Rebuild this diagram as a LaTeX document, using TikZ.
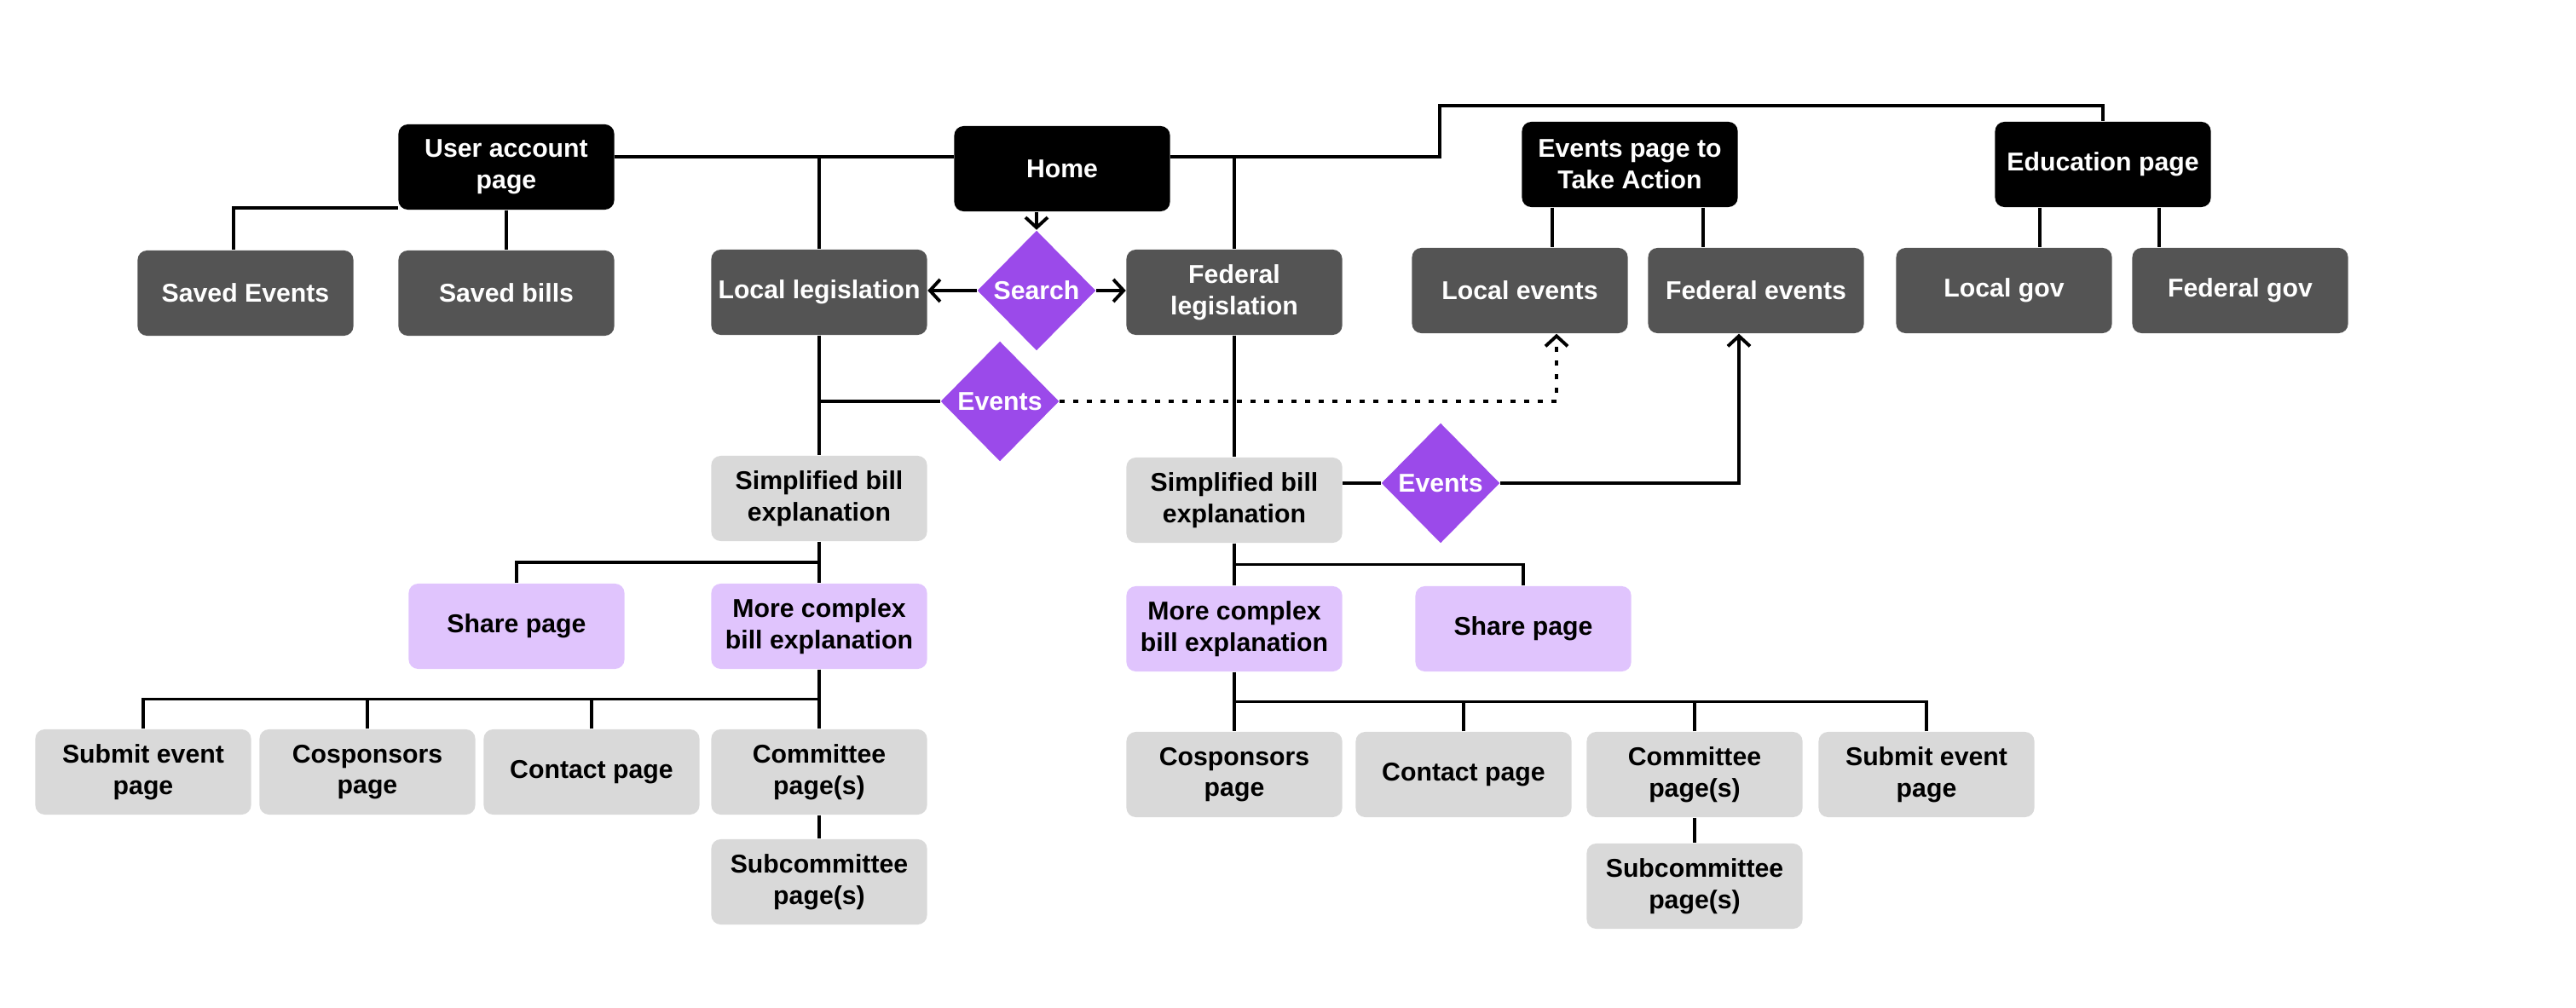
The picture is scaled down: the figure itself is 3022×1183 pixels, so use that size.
\documentclass[tikz,border=0pt]{standalone}
\usepackage{fontspec}
\setmainfont{Liberation Sans}
\usetikzlibrary{shapes.geometric,arrows.meta,calc}
\definecolor{dkgray}{HTML}{545454}
\definecolor{ltgray}{HTML}{D9D9D9}
\definecolor{ltpurple}{HTML}{E0C4FD}
\definecolor{dpurple}{HTML}{9B4AEA}
\tikzset{
  box/.style={rectangle, rounded corners=0.11cm, minimum width=2.53cm, minimum height=1.0cm,
    inner sep=0pt, align=center, font=\fontsize{8.6}{10.4}\selectfont\bfseries},
  topbox/.style={box, fill=black, text=white},
  darkbox/.style={box, fill=dkgray, text=white},
  greybox/.style={box, fill=ltgray, text=black},
  purplebox/.style={box, fill=ltpurple, text=black},
  decision/.style={diamond, aspect=1, fill=dpurple, text=white, inner sep=0pt,
    minimum width=1.39cm, minimum height=1.41cm, font=\fontsize{8.6}{10.4}\selectfont\bfseries},
  link/.style={draw=black, line width=1.1pt},
  arr/.style={link, -{Straight Barb[length=0.12cm,width=0.26cm,line width=1.1pt]}},
  dotlink/.style={arr, dash pattern=on 0.06cm off 0.1cm}
}
\begin{document}
\begin{tikzpicture}[x=0.01cm, y=-0.01cm]
\useasboundingbox (0,0) rectangle (3022,1183);
% top row
\node[topbox] (uap) at (594,196) {User account\\page};
\node[topbox] (home) at (1246,198) {Home};
\node[topbox] (evp) at (1912,193) {Events page to\\Take Action};
\node[topbox] (edu) at (2467,193) {Education page};
% second row
\node[darkbox] (sev) at (288,344) {Saved Events};
\node[darkbox] (sbl) at (594,344) {Saved bills};
\node[darkbox] (loc) at (961,343) {Local legislation};
\node[decision] (search) at (1216,341) {Search};
\node[darkbox] (fed) at (1448,343) {Federal\\legislation};
\node[darkbox] (le) at (1783,341) {Local events};
\node[darkbox] (fe) at (2060,341) {Federal events};
\node[darkbox] (lg) at (2351,341) {Local gov};
\node[darkbox] (fg) at (2628,341) {Federal gov};
% local branch
\node[decision] (ev1) at (1173,471) {Events};
\node[greybox] (ls) at (961,585) {Simplified bill\\explanation};
\node[purplebox] (lsh) at (606,735) {Share page};
\node[purplebox] (lmc) at (961,735) {More complex\\bill explanation};
\node[greybox] (lse) at (168,906) {Submit event\\page};
\node[greybox] (lco) at (431,906) {Cosponsors\\page};
\node[greybox] (lct) at (694,906) {Contact page};
\node[greybox] (lcm) at (961,906) {Committee\\page(s)};
\node[greybox] (lsc) at (961,1035) {Subcommittee\\page(s)};
% federal branch
\node[greybox] (fs) at (1448,587) {Simplified bill\\explanation};
\node[decision] (ev2) at (1690,567) {Events};
\node[purplebox] (fmc) at (1448,738) {More complex\\bill explanation};
\node[purplebox] (fsh) at (1787,738) {Share page};
\node[greybox] (fco) at (1448,909) {Cosponsors\\page};
\node[greybox] (fct) at (1717,909) {Contact page};
\node[greybox] (fcm) at (1988,909) {Committee\\page(s)};
\node[greybox] (fse) at (2260,909) {Submit event\\page};
\node[greybox] (fsc) at (1988,1040) {Subcommittee\\page(s)};
% helper coordinates
\coordinate (busY) at (0,184);
\coordinate (jog) at (1689,124);
% top bus
\draw[link] (uap.east |- busY) -- (home.west |- busY);
\draw[link] (home.east |- busY) -- (jog |- busY) -- (jog) -| (edu.north);
\draw[link] (loc.north) -- (loc.north |- busY);
\draw[link] (fed.north) -- (fed.north |- busY);
% user account
\draw[link] ([yshift=0.03cm]uap.south west) -| ([xshift=-0.14cm]sev.north);
\draw[link] (uap.south) -- (sbl.north);
% search
\draw[arr] (search.north |- home.south) -- (search.north);
\draw[arr] (search.west) -- (search.west -| loc.east);
\draw[arr] (search.east) -- (search.east -| fed.west);
% events page / education
\draw[link] ([xshift=-0.91cm]evp.south) -- ([xshift=-0.91cm]evp.south |- le.north);
\draw[link] ([xshift=0.86cm]evp.south) -- ([xshift=0.86cm]evp.south |- fe.north);
\draw[link] ([xshift=-0.74cm]edu.south) -- ([xshift=-0.74cm]edu.south |- lg.north);
\draw[link] ([xshift=0.66cm]edu.south) -- ([xshift=0.66cm]edu.south |- fg.north);
% local legislation branch
\draw[link] (loc.south) -- (ls.north);
\draw[link] (ev1.west -| loc.south) -- (ev1.west);
\draw[dotlink] (ev1.east) -| ([xshift=0.43cm]le.south);
\draw[link] (ls.south) -- (lmc.north);
\coordinate (lm1) at ($(ls.south)!0.5!(lmc.north)$);
\draw[link] (lsh.north) |- (lm1);
\draw[link] (lmc.south) -- (lcm.north);
\coordinate (lb) at ($(lmc.south)!0.5!(lcm.north)$);
\draw[link] (lse.north) |- (lb);
\draw[link] (lco.north) -- (lco.north |- lb);
\draw[link] (lct.north) -- (lct.north |- lb);
\draw[link] (lcm.south) -- (lsc.north);
% federal legislation branch
\draw[link] (fed.south) -- (fs.north);
\draw[link] (ev2.west -| fs.east) -- (ev2.west);
\draw[arr] (ev2.east) -| ([xshift=-0.20cm]fe.south);
\draw[link] (fs.south) -- (fmc.north);
\coordinate (fm1) at ($(fs.south)!0.5!(fmc.north)$);
\draw[link] (fsh.north) |- (fm1);
\draw[link] (fmc.south) -- (fco.north);
\coordinate (fb) at ($(fmc.south)!0.5!(fco.north)$);
\draw[link] (fse.north) |- (fb);
\draw[link] (fct.north) -- (fct.north |- fb);
\draw[link] (fcm.north) -- (fcm.north |- fb);
\draw[link] (fcm.south) -- (fsc.north);
\end{tikzpicture}
\end{document}
